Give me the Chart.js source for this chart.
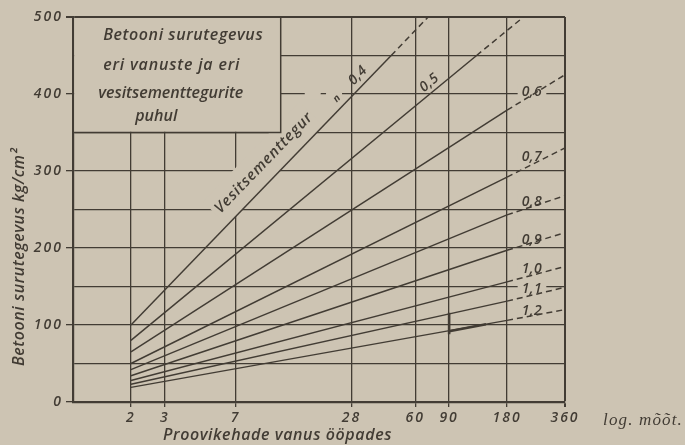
<!DOCTYPE html>
<html lang="et">
<head>
<meta charset="UTF-8">
<title>Betooni surutegevus</title>
<script src="https://cdn.jsdelivr.net/npm/chart.js"></script>
<style>
  html, body { margin: 0; padding: 0; background: #cdc4b3; }
  #wrap { width: 685px; height: 445px; }
</style>
</head>
<body>
<div id="wrap"><canvas id="betoon" width="685" height="445"></canvas></div>
<script>
// vesitsementtegurid
const ratios = ['0,4', '0,5', '0,6', '0,7', '0,8', '0,9', '1,0', '1,1', '1,2'];
// all lines start at 2 days
const startDays = [2, 2, 2, 2, 2, 2, 2, 2, 2];
const startValues = [100, 80, 65, 50, 42, 34, 28, 23, 19];
// end of the solid part
const solidEndDays = [45, 125, 180, 180, 180, 180, 180, 180, 180];
const solidEndValues = [450, 450, 379, 292, 243, 197, 156, 131, 106];
// end of the dashed part
const dashEndDays = [70, 219, 360, 360, 360, 360, 360, 360, 360];
const dashEndValues = [500, 500, 425, 330, 268, 220, 176, 149, 120];

const xTicks = [2, 3, 7, 28, 60, 90, 180, 360];
const yLabelled = [0, 100, 200, 300, 400, 500];

// ink mark near 90 days
const markDays = [90, 90];
const markValues = [116, 88];
const markTailDays = [90, 140];
const markTailValues = [92, 101];

const paper = '#cdc4b3';
const ink = '#423c34';
const tickFont = { family: 'Open Sans', style: 'italic', size: 14, weight: '600' };

const datasets = [];
ratios.forEach((r, i) => {
    datasets.push({
        label: r,
        data: [{ x: startDays[i], y: startValues[i] }, { x: solidEndDays[i], y: solidEndValues[i] }],
        borderColor: ink, borderWidth: 1.5, pointRadius: 0, fill: false
    });
    datasets.push({
        label: r + ' (ekstrapol.)',
        data: [{ x: solidEndDays[i], y: solidEndValues[i] }, { x: dashEndDays[i], y: dashEndValues[i] }],
        borderColor: ink, borderWidth: 1.5, borderDash: [6, 4], pointRadius: 0, fill: false
    });
});
datasets.push({
    label: 'mark',
    data: markDays.map((d, k) => ({ x: d, y: markValues[k] })),
    borderColor: ink, borderWidth: 2.6, pointRadius: 0
});
datasets.push({
    label: 'mark tail',
    data: markTailDays.map((d, k) => ({ x: d, y: markTailValues[k] })),
    borderColor: ink, borderWidth: 2.6, pointRadius: 0
});

// where the ratio labels sit on their lines
const labelPlace = [
    { seg: 0, t: 0.90, off: 10, rotate: true },
    { seg: 0, t: 0.88, off: 9, rotate: true },
    { seg: 1, t: 0.43, off: 3 },
    { seg: 1, t: 0.43, off: 8 },
    { seg: 1, t: 0.43, off: 5 },
    { seg: 1, t: 0.43, off: 3 },
    { seg: 1, t: 0.43, off: 6 },
    { seg: 1, t: 0.43, off: 6 },
    { seg: 1, t: 0.43, off: 5 }
];

function linePoint(chart, dsIndex, t) {
    const pts = chart.getDatasetMeta(dsIndex).data;
    const a = pts[0], b = pts[pts.length - 1];
    return {
        x: a.x + (b.x - a.x) * t,
        y: a.y + (b.y - a.y) * t,
        ang: Math.atan2(b.y - a.y, b.x - a.x)
    };
}

function spacedText(ctx, text, x, y, width) {
    ctx.letterSpacing = '0px';
    const w0 = ctx.measureText(text).width;
    const ls = Math.max(0, (width - w0) / text.length);
    ctx.letterSpacing = ls + 'px';
    ctx.fillText(text, x, y);
}

function labelCenter(chart, i) {
    const p = labelPlace[i];
    const pt = linePoint(chart, i * 2 + p.seg, p.t);
    if (p.rotate) {
        return { x: pt.x + Math.sin(pt.ang) * p.off, y: pt.y - Math.cos(pt.ang) * p.off, ang: pt.ang };
    }
    return { x: pt.x, y: pt.y - p.off, ang: 0 };
}

const labelFont = 'italic 600 14px "Open Sans"';

const sketchPlugin = {
    id: 'sketch',
    beforeDraw(chart) {
        chart.ctx.letterSpacing = '2px';
    },
    beforeDatasetsDraw(chart) {
        const { ctx, scales: { x: xs, y: ys } } = chart;
        ctx.save();
        ctx.fillStyle = paper;

        // band under "Vesitsementtegur"
        const a = linePoint(chart, 0, 0.37), b = linePoint(chart, 0, 0.74);
        const nx = Math.sin(a.ang), ny = -Math.cos(a.ang);
        ctx.beginPath();
        ctx.moveTo(a.x, a.y);
        ctx.lineTo(b.x, b.y);
        ctx.lineTo(b.x + nx * 34, b.y + ny * 34);
        ctx.lineTo(a.x + nx * 34, a.y + ny * 34);
        ctx.closePath();
        ctx.fill();

        // small gap at 400 for the "- n" mark
        const g0 = xs.getPixelForValue(16), g1 = xs.getPixelForValue(25);
        ctx.fillRect(g0, ys.getPixelForValue(408), g1 - g0, 12);

        // label backgrounds
        ctx.font = labelFont;
        ctx.letterSpacing = '0.5px';
        ratios.forEach((r, i) => {
            if (labelPlace[i].rotate) return;
            const c = labelCenter(chart, i);
            const w = ctx.measureText(r).width;
            ctx.fillRect(c.x - w / 2 - 4, c.y - 7, w + 8, 12);
        });

        // title box
        const bx0 = xs.left + 1.2, bx1 = xs.getPixelForValue(12);
        const by0 = ys.getPixelForValue(500) + 1, by1 = ys.getPixelForValue(350);
        ctx.fillRect(bx0, by0, bx1 - bx0, by1 - by0 - 0.7);
        ctx.strokeStyle = ink;
        ctx.lineWidth = 1.5;
        ctx.beginPath();
        ctx.moveTo(bx1, by0 - 1);
        ctx.lineTo(bx1, by1);
        ctx.lineTo(bx0, by1);
        ctx.stroke();

        ctx.fillStyle = ink;
        ctx.textAlign = 'left';
        ctx.textBaseline = 'alphabetic';
        ctx.font = 'italic 600 16px "Open Sans"';
        spacedText(ctx, 'Betooni surutegevus', bx0 + 29, by0 + 22, 160);
        spacedText(ctx, 'eri vanuste ja eri', bx0 + 29, by0 + 52, 137);
        spacedText(ctx, 'vesitsementtegurite', bx0 + 24, by0 + 80, 145);
        spacedText(ctx, 'puhul', bx0 + 61, by0 + 103, 42);
        ctx.restore();
    },
    afterDatasetsDraw(chart) {
        const { ctx, scales: { x: xs, y: ys } } = chart;
        ctx.save();
        ctx.fillStyle = ink;
        ctx.textAlign = 'center';
        ctx.textBaseline = 'middle';

        // ratio labels
        ctx.font = labelFont;
        ctx.letterSpacing = '0.5px';
        ratios.forEach((r, i) => {
            const c = labelCenter(chart, i);
            ctx.save();
            ctx.translate(c.x, c.y);
            ctx.rotate(c.ang);
            ctx.fillText(r, 0, 0);
            ctx.restore();
        });

        // "Vesitsementtegur" along the 0,4 line
        const v = linePoint(chart, 0, 0.558);
        ctx.save();
        ctx.translate(v.x + Math.sin(v.ang) * 17, v.y - Math.cos(v.ang) * 17);
        ctx.rotate(v.ang);
        ctx.font = 'italic 600 15px "Open Sans"';
        ctx.textAlign = 'left';
        spacedText(ctx, 'Vesitsementtegur', -67, 0, 134);
        ctx.restore();

        // "- n" mark
        ctx.font = 'italic 600 13px "Open Sans"';
        ctx.letterSpacing = '0px';
        ctx.fillText('–', xs.getPixelForValue(20), ys.getPixelForValue(401));
        ctx.save();
        ctx.translate(xs.getPixelForValue(23.5), ys.getPixelForValue(394));
        ctx.rotate(-0.8);
        ctx.font = 'italic bold 10px "Open Sans"';
        ctx.fillText('n', 0, 0);
        ctx.restore();

        // axis titles
        ctx.textAlign = 'left';
        ctx.textBaseline = 'alphabetic';
        ctx.save();
        ctx.translate(24, 366);
        ctx.rotate(-Math.PI / 2);
        ctx.font = 'italic 600 16px "Open Sans"';
        spacedText(ctx, 'Betooni surutegevus kg/cm²', 0, 0, 218);
        ctx.restore();

        ctx.font = 'italic 600 16px "Open Sans"';
        spacedText(ctx, 'Proovikehade vanus ööpades', 163, 440, 229);

        ctx.font = 'italic 17px "Liberation Serif"';
        spacedText(ctx, 'log. mõõt.', 603, 425, 80);
        ctx.restore();
    }
};

new Chart(document.getElementById('betoon'), {
    type: 'line',
    data: { datasets: datasets },
    plugins: [sketchPlugin],
    options: {
        responsive: false,
        animation: false,
        devicePixelRatio: 1,
        layout: { padding: { top: 17, right: 120, left: 0, bottom: 0 } },
        plugins: { legend: { display: false }, tooltip: { enabled: false } },
        scales: {
            x: {
                type: 'logarithmic',
                min: 1,
                max: 360,
                afterBuildTicks: s => { s.ticks = xTicks.map(v => ({ value: v })); },
                afterFit: s => { s.height = 43; },
                ticks: {
                    autoSkip: false, maxRotation: 0, padding: 3, color: ink, font: tickFont,
                    callback: v => String(v)
                },
                grid: {
                    color: ink,
                    lineWidth: c => (c.tick && c.tick.value === 360 ? 2 : 1.3),
                    tickLength: 5,
                    tickColor: ink
                },
                border: { color: ink, width: 2.2 }
            },
            y: {
                min: 0,
                max: 500,
                afterFit: s => { s.width = 73; },
                ticks: {
                    stepSize: 50, padding: 3, color: ink, font: tickFont,
                    callback: v => (yLabelled.includes(v) ? String(v) : '')
                },
                grid: {
                    color: ink,
                    lineWidth: c => (c.tick && c.tick.value === 500 ? 2 : 1.3),
                    tickLength: 7,
                    tickColor: c => (c.tick && yLabelled.includes(c.tick.value) ? ink : 'rgba(0,0,0,0)')
                },
                border: { color: ink, width: 2.2 }
            }
        }
    }
});
</script>
</body>
</html>
